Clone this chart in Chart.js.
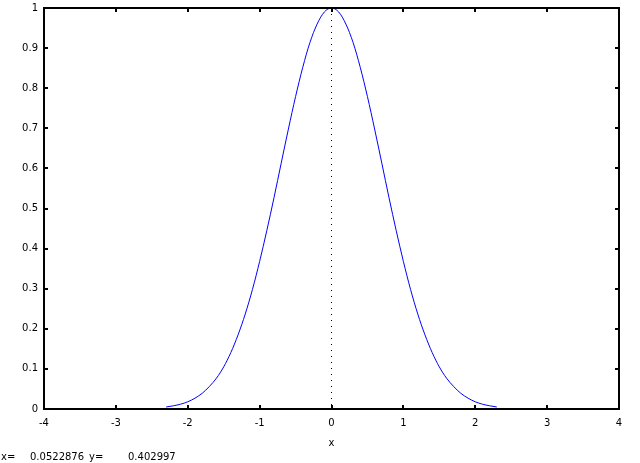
<!DOCTYPE html>
<html>
<head>
<meta charset="utf-8">
<script src="https://cdn.jsdelivr.net/npm/chart.js@4/dist/chart.umd.min.js"></script>
<style>
    html, body { margin: 0; padding: 0; background: #fff; }
    #wrap { width: 640px; height: 463px; position: relative; }
</style>
</head>
<body>
<div id="wrap"><canvas id="chart"></canvas></div>
<script>
    // values
    const xValues = [
        -2.3, -2.2, -2.1, -2.0, -1.9, -1.8, -1.7, -1.6, -1.5, -1.4, -1.3, -1.2,
        -1.1, -1.0, -0.9, -0.8, -0.7, -0.6, -0.5, -0.4, -0.3, -0.2, -0.1, 0.0,
        0.1, 0.2, 0.3, 0.4, 0.5, 0.6, 0.7, 0.8, 0.9, 1.0, 1.1, 1.2,
        1.3, 1.4, 1.5, 1.6, 1.7, 1.8, 1.9, 2.0, 2.1, 2.2, 2.3
    ];
    const yValues = [
        0.005, 0.008, 0.012, 0.018, 0.027, 0.039, 0.056, 0.077, 0.105, 0.141, 0.185, 0.237,
        0.298, 0.368, 0.445, 0.527, 0.613, 0.698, 0.779, 0.852, 0.914, 0.960, 0.990, 1.000,
        0.990, 0.960, 0.914, 0.852, 0.779, 0.698, 0.613, 0.527, 0.445, 0.368, 0.298, 0.237,
        0.185, 0.141, 0.105, 0.077, 0.056, 0.039, 0.027, 0.018, 0.012, 0.008, 0.005
    ];
    const xRange = [-4, 4];
    const yRange = [0, 1];
    const statusX = '0.0522876';
    const statusY = '0.402997';

    const fontFamily = 'DejaVu Sans';

    // box round the plot, inward ticks on all four sides, status line
    const framePlugin = {
        id: 'frame',
        afterDraw(chart) {
            const { ctx, chartArea: a } = chart;
            const xs = chart.scales.x;
            const ys = chart.scales.y;
            const len = 4;

            ctx.save();
            ctx.strokeStyle = '#000';
            ctx.lineWidth = 2;
            ctx.strokeRect(a.left, a.top, a.right - a.left, a.bottom - a.top);

            ctx.beginPath();
            xs.ticks.forEach(t => {
                const px = Math.round(xs.getPixelForValue(t.value));
                ctx.moveTo(px, a.bottom);
                ctx.lineTo(px, a.bottom - len);
                ctx.moveTo(px, a.top);
                ctx.lineTo(px, a.top + len);
            });
            ys.ticks.forEach(t => {
                const py = Math.round(ys.getPixelForValue(t.value));
                ctx.moveTo(a.left, py);
                ctx.lineTo(a.left + len, py);
                ctx.moveTo(a.right, py);
                ctx.lineTo(a.right - len, py);
            });
            ctx.stroke();

            ctx.fillStyle = '#000';
            ctx.font = '10px "' + fontFamily + '"';
            ctx.textBaseline = 'middle';
            ctx.textAlign = 'left';
            ctx.fillText('x=', 1, 457);
            ctx.fillText(statusX, 30, 457);
            ctx.fillText('y=', 89, 457);
            ctx.fillText(statusY, 128, 457);
            ctx.restore();
        }
    };

    new Chart(document.getElementById('chart'), {
        type: 'scatter',
        plugins: [framePlugin],
        data: {
            datasets: [{
                data: xValues.map((x, i) => ({ x, y: yValues[i] })),
                showLine: true,
                borderColor: '#0000ff',
                borderWidth: 1,
                pointRadius: 0,
                cubicInterpolationMode: 'monotone'
            }]
        },
        options: {
            responsive: true,
            maintainAspectRatio: false,
            animation: false,
            layout: { padding: { top: 8, right: 21, left: 0, bottom: 0 } },
            plugins: {
                legend: { display: false },
                tooltip: { enabled: false }
            },
            scales: {
                x: {
                    type: 'linear',
                    min: xRange[0],
                    max: xRange[1],
                    ticks: {
                        stepSize: 1,
                        color: '#000',
                        padding: 8,
                        maxRotation: 0,
                        font: { family: fontFamily, size: 10 }
                    },
                    grid: {
                        drawTicks: false,
                        lineWidth: 1,
                        color: c => (c.tick && c.tick.value === 0) ? '#000' : 'rgba(0,0,0,0)'
                    },
                    border: { display: false, dash: [1, 5] },
                    title: {
                        display: true,
                        text: 'x',
                        color: '#000',
                        font: { family: fontFamily, size: 10 },
                        padding: { top: 0, bottom: 14 }
                    },
                    afterFit(scale) {
                        scale.height = 54;
                        scale.paddingLeft = 0;
                        scale.paddingRight = 0;
                    }
                },
                y: {
                    min: yRange[0],
                    max: yRange[1],
                    ticks: {
                        stepSize: 0.1,
                        color: '#000',
                        padding: 6,
                        font: { family: fontFamily, size: 10 },
                        callback: v => String(Number(v.toFixed(1)))
                    },
                    grid: { display: false, drawTicks: false },
                    border: { display: false },
                    afterFit(scale) {
                        scale.width = 44;
                        scale.paddingTop = 0;
                        scale.paddingBottom = 0;
                    }
                }
            }
        }
    });
</script>
</body>
</html>
